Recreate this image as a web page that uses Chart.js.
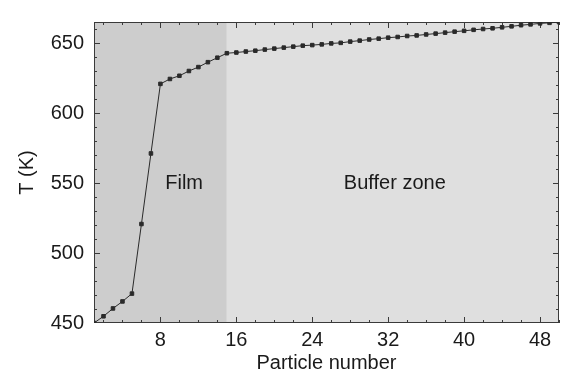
<!DOCTYPE html>
<html lang="en">
<head>
    <meta charset="UTF-8">
    <title>T vs particle number</title>
    <script src="https://cdn.jsdelivr.net/npm/chart.js"></script>
    <style>
        html, body { margin: 0; padding: 0; background: #fff; }
        #wrap { width: 566px; height: 374px; }
    </style>
</head>
<body>
    <div id="wrap"><canvas id="tempChart" width="566" height="374"></canvas></div>

    <script>
        // particle index along the chain and temperature (K)
        const particles = [1, 2, 3, 4, 5, 6, 7, 8, 9, 10,
            11, 12, 13, 14, 15, 16, 17, 18, 19, 20,
            21, 22, 23, 24, 25, 26, 27, 28, 29, 30,
            31, 32, 33, 34, 35, 36, 37, 38, 39, 40,
            41, 42, 43, 44, 45, 46, 47, 48, 49, 50];
        const temps = [450, 454.8, 460.4, 465.4, 471, 520.7, 571.1, 620.8, 624.3, 626.6,
            630, 632.8, 636.3, 639.5, 642.7, 643.2, 643.9, 644.5, 645.3, 646,
            646.7, 647.4, 648.1, 648.5, 649, 649.7, 650.1, 651, 651.7, 652.5,
            653.1, 653.8, 654.3, 655, 655.4, 656.1, 656.7, 657.4, 658.1, 658.7,
            659.4, 660, 660.5, 661.2, 661.9, 662.7, 663.3, 664, 664.4, 664.9];

        const xTicks = [8, 16, 24, 32, 40, 48];
        const yTicks = [450, 500, 550, 600, 650];

        // shaded zones: [from, to, label]
        const filmZone = [1, 15, 'Film'];
        const bufferZone = [15, 50, 'Buffer zone'];

        const FONT = '"Liberation Sans", Arial, sans-serif';
        const ctx = document.getElementById('tempChart').getContext('2d');

        const zonesPlugin = {
            id: 'zones',
            beforeDatasetsDraw(chart) {
                const { ctx, chartArea: a, scales: { x, y } } = chart;
                ctx.save();
                ctx.fillStyle = '#cdcdcd';
                let x0 = x.getPixelForValue(filmZone[0]), x1 = x.getPixelForValue(filmZone[1]);
                ctx.fillRect(x0, a.top, x1 - x0, a.bottom - a.top);
                ctx.fillStyle = '#dfdfdf';
                x0 = x.getPixelForValue(bufferZone[0]); x1 = x.getPixelForValue(bufferZone[1]);
                ctx.fillRect(x0, a.top, x1 - x0, a.bottom - a.top);

                // zone labels
                ctx.fillStyle = '#1a1a1a';
                ctx.font = '20px ' + FONT;
                ctx.textAlign = 'center';
                ctx.textBaseline = 'middle';
                ctx.fillText(filmZone[2], x.getPixelForValue(10.5), y.getPixelForValue(550));
                ctx.fillText(bufferZone[2], x.getPixelForValue(32.7), y.getPixelForValue(550));

                // frame + inward ticks
                ctx.strokeStyle = '#3a3a3a';
                ctx.lineWidth = 1;
                ctx.strokeRect(a.left + 0.5, a.top + 0.5, a.right - a.left - 1, a.bottom - a.top - 1);
                ctx.beginPath();
                for (let v = 2; v <= 50; v += 2) {
                    const px = Math.round(x.getPixelForValue(v)) + 0.5;
                    const len = v % 8 === 0 ? 6 : 3;
                    ctx.moveTo(px, a.bottom); ctx.lineTo(px, a.bottom - len);
                    ctx.moveTo(px, a.top); ctx.lineTo(px, a.top + len);
                }
                for (let v = 460; v <= 660; v += 10) {
                    const py = Math.round(y.getPixelForValue(v)) + 0.5;
                    const len = v % 50 === 0 ? 6 : 3;
                    ctx.moveTo(a.left, py); ctx.lineTo(a.left + len, py);
                    ctx.moveTo(a.right, py); ctx.lineTo(a.right - len, py);
                }
                ctx.stroke();
                ctx.restore();
            }
        };

        new Chart(ctx, {
            type: 'line',
            data: {
                datasets: [{
                    data: particles.map((p, i) => ({ x: p, y: temps[i] })),
                    borderColor: '#2a2a2a',
                    backgroundColor: '#2a2a2a',
                    borderWidth: 1,
                    pointStyle: 'rect',
                    pointRadius: 2.5,
                    tension: 0,
                    fill: false
                }]
            },
            options: {
                responsive: false,
                animation: false,
                layout: { padding: { top: 14, right: 7, left: 0, bottom: 0 } },
                plugins: { legend: { display: false }, tooltip: { enabled: false } },
                scales: {
                    x: {
                        type: 'linear',
                        min: 1,
                        max: 50,
                        afterBuildTicks: s => { s.ticks = xTicks.map(v => ({ value: v })); },
                        afterFit: s => { s.height = 51; },
                        grid: { display: false, drawTicks: false },
                        border: { display: false },
                        ticks: { padding: 5, color: '#1a1a1a', font: { family: FONT, size: 20 } },
                        title: {
                            display: true,
                            text: 'Particle number',
                            color: '#1a1a1a',
                            padding: 0,
                            font: { family: FONT, size: 20, lineHeight: 1.1 }
                        }
                    },
                    y: {
                        min: 450,
                        max: 665,
                        afterBuildTicks: s => { s.ticks = yTicks.map(v => ({ value: v })); },
                        afterFit: s => { s.width = 94; },
                        grid: { display: false, drawTicks: false },
                        border: { display: false },
                        ticks: { padding: 10, color: '#1a1a1a', font: { family: FONT, size: 20 } },
                        title: {
                            display: true,
                            text: 'T (K)',
                            color: '#1a1a1a',
                            padding: { top: 15, bottom: 0 },
                            font: { family: FONT, size: 20, lineHeight: 1.2 }
                        }
                    }
                }
            },
            plugins: [zonesPlugin]
        });
    </script>
</body>
</html>
